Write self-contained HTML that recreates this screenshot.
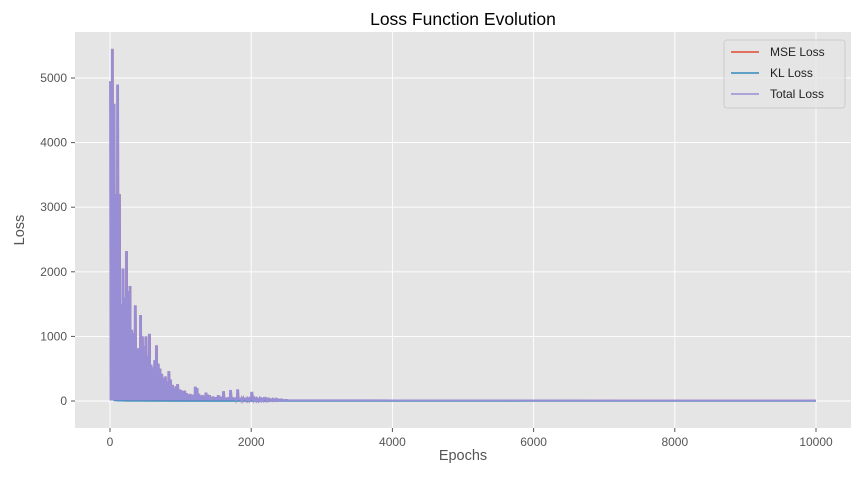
<!DOCTYPE html>
<html><head><meta charset="utf-8"><style>
body{margin:0;background:#fff;font-family:"Liberation Sans","DejaVu Sans",sans-serif}
</style></head><body>
<svg id="chart" width="860" height="472" viewBox="0 0 860 472">
<rect x="0" y="0" width="860" height="472" fill="#fff"/>
<rect x="75" y="32" width="776" height="396" fill="#e5e5e5"/>
<g id="grid"></g><g id="series"></g><g id="ticks"></g>
<text x="463" y="25" text-anchor="middle" font-size="17.5" fill="#000">Loss Function Evolution</text>
<text x="463" y="460" text-anchor="middle" font-size="14.5" fill="#555">Epochs</text>
<text x="24" y="230" text-anchor="middle" font-size="14.5" fill="#555" transform="rotate(-90 24 230)">Loss</text>
<g>
<rect x="724" y="40" width="121" height="68" rx="3" fill="#e5e5e5" fill-opacity="0.8" stroke="#ccc"/>
<line x1="731" y1="52" x2="759" y2="52" stroke="#E24A33" stroke-width="1.5"/>
<text x="770" y="56" font-size="12" fill="#222">MSE Loss</text>
<line x1="731" y1="73" x2="759" y2="73" stroke="#348ABD" stroke-width="1.5"/>
<text x="770" y="77" font-size="12" fill="#222">KL Loss</text>
<line x1="731" y1="94" x2="759" y2="94" stroke="#988ED5" stroke-width="1.5"/>
<text x="770" y="98" font-size="12" fill="#222">Total Loss</text>
</g>
</svg>
<script>
const xTicks=[0,2000,4000,6000,8000,10000];
const yTicks=[0,1000,2000,3000,4000,5000];
const peakEpochs=[0,25,50,75,100,125,150,175,200,225,250,275,300,325,350,375,400,425,450,475,500,525,550,575,600,625,650,675,700,725,750,775,800,825,850,875,900,925,950,975,1000,1025,1050,1075,1100,1125,1150,1175,1200,1225,1250,1275,1300,1325,1350,1375,1400,1425,1450,1475,1500,1525,1550,1575,1600,1625,1650,1675,1700,1725,1750,1775,1800,1825,1850,1875,1900,1925,1950,1975,2000,2025,2050,2075,2100,2125,2150,2175,2200,2225,2250,2275,2300,2325,2350,2375,2400,2425,2450,2475,2500];
const totalPeaks=[4950,5450,4600,3200,4900,3200,1500,2050,1600,2320,1700,1780,1100,1050,1480,800,820,1330,1000,850,1000,700,1040,560,520,630,860,580,500,420,350,380,300,460,330,250,200,230,260,180,170,150,160,120,100,110,100,90,220,200,110,80,90,70,130,100,90,60,70,60,60,90,70,60,150,50,50,60,170,60,50,40,180,50,40,40,50,35,30,30,140,40,30,30,35,30,25,60,30,25,25,20,25,20,25,20,18,20,15,15,15];
const troughValue=[10];
const tailEpochs=[2500,4000,6000,8000,10000];
const tailValues=[12,10,9,8,8];
const klEpochs=[0,30,60,100,200,400,1000,3000,10000];
const klValues=[15,25,10,5,3,2,1,1,1];
const X=e=>110+e*(816-110)/10000;
const Y=v=>401-v*(401-78)/5000;
const NS="http://www.w3.org/2000/svg";
const grid=document.getElementById('grid'),ticks=document.getElementById('ticks'),series=document.getElementById('series');
xTicks.forEach(t=>{
 const l=document.createElementNS(NS,'line');l.setAttribute('x1',X(t));l.setAttribute('x2',X(t));l.setAttribute('y1',32);l.setAttribute('y2',428);l.setAttribute('stroke','#fff');l.setAttribute('stroke-width','0.9');
 
 
 grid.appendChild(l);
 const k=document.createElementNS(NS,'line');k.setAttribute('x1',X(t));k.setAttribute('x2',X(t));k.setAttribute('y1',428);k.setAttribute('y2',432);k.setAttribute('stroke','#555');
 
 
 ticks.appendChild(k);
 const s=document.createElementNS(NS,'text');s.setAttribute('x',X(t));s.setAttribute('y',446);s.setAttribute('text-anchor','middle');s.setAttribute('font-size','12');s.setAttribute('fill','#555');s.textContent=t;
 
 
 ticks.appendChild(s);
});
yTicks.forEach(t=>{
 const l=document.createElementNS(NS,'line');l.setAttribute('x1',75);l.setAttribute('x2',851);l.setAttribute('y1',Y(t));l.setAttribute('y2',Y(t));l.setAttribute('stroke','#fff');l.setAttribute('stroke-width','0.9');
 
 
 grid.appendChild(l);
 const k=document.createElementNS(NS,'line');k.setAttribute('x1',71);k.setAttribute('x2',75);k.setAttribute('y1',Y(t));k.setAttribute('y2',Y(t));k.setAttribute('stroke','#555');
 
 
 ticks.appendChild(k);
 const s=document.createElementNS(NS,'text');s.setAttribute('x',67);s.setAttribute('y',Y(t)+4);s.setAttribute('text-anchor','end');s.setAttribute('font-size','12');s.setAttribute('fill','#555');s.textContent=t;
 
 
 ticks.appendChild(s);
});
function spikyPath(dx){
 let d='';
 peakEpochs.forEach((e,i)=>{
  d+=(i?'L':'M')+(X(e)+dx).toFixed(2)+','+Y(totalPeaks[i]).toFixed(2);
  d+='L'+(X(e)+dx+0.5).toFixed(2)+','+Y(troughValue[0]).toFixed(2);
  d+='L'+(X(e)+dx+1.0).toFixed(2)+','+Y(totalPeaks[i]).toFixed(2);
  d+='L'+(X(e)+dx+1.5).toFixed(2)+','+Y(troughValue[0]).toFixed(2);
 });
 tailEpochs.forEach((e,i)=>{d+='L'+X(e).toFixed(2)+','+Y(tailValues[i]).toFixed(2);});
 return d;
}
function addPath(d,color,name,w){
 const p=document.createElementNS(NS,'path');p.setAttribute('d',d);p.setAttribute('fill','none');p.setAttribute('stroke',color);p.setAttribute('stroke-width',w);p.setAttribute('stroke-linejoin','miter');
 
 
 series.appendChild(p);
}
addPath(spikyPath(0.2),'#E24A33','mse-loss-line',1.5);
let kd='';klEpochs.forEach((e,i)=>{kd+=(i?'L':'M')+X(e).toFixed(2)+','+Y(klValues[i]).toFixed(2);});
addPath(kd,'#348ABD','kl-loss-line',1.5);
addPath(spikyPath(0),'#988ED5','total-loss-line',1.8);
</script>
</body></html>
